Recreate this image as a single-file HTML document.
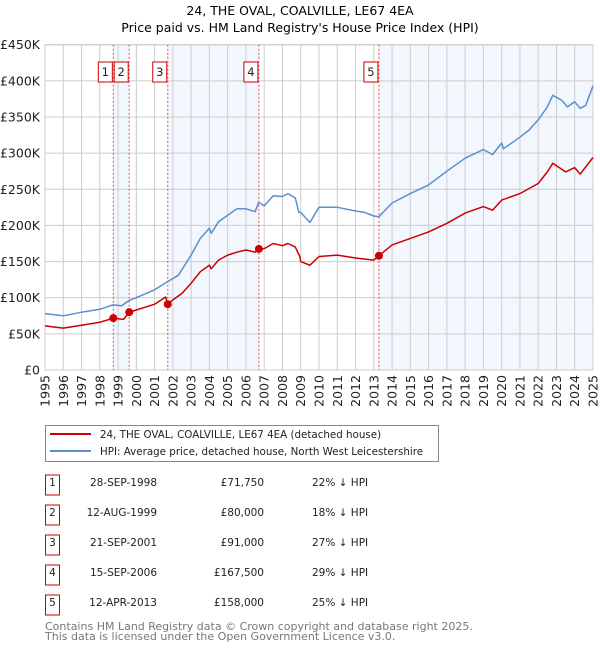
<!DOCTYPE html>
<html><head><meta charset="utf-8"><style>
body{margin:0;background:#fff;font-family:"DejaVu Sans","Liberation Sans",sans-serif;}
svg text{font-family:"DejaVu Sans","Liberation Sans",sans-serif;}
</style></head><body>
<svg id="c" width="600" height="650" xmlns="http://www.w3.org/2000/svg"></svg>
<script>
const hpiYears=[1995,1996,1997,1998,1998.7,1999.2,1999.6,2000,2001,2001.7,2002.3,2003,2003.5,2004,2004.1,2004.5,2005,2005.5,2006,2006.5,2006.7,2007,2007.5,2008,2008.3,2008.7,2008.9,2009,2009.5,2010,2011,2012,2012.5,2013,2013.28,2014,2015,2016,2017,2018,2019,2019.5,2020,2020.1,2021,2021.5,2022,2022.5,2022.8,2023.3,2023.6,2024,2024.3,2024.6,2025];
const hpiValues=[78,75,80,84,90,89,96,100,111,122,131,159,182,196,189,205,214,223,223,219,232,227,241,240,244,238,218,218,204,225,225,220,218,213,212,231,244,256,275,293,305,298,314,306,322,332,346,364,380,373,364,371,362,366,393];
const priceYears=[1995,1996,1997,1998,1998.74,1999.3,1999.61,2000,2001,2001.6,2001.72,2002,2002.5,2003,2003.5,2004,2004.1,2004.5,2005,2005.5,2006,2006.5,2006.71,2007,2007.5,2008,2008.3,2008.7,2008.95,2009,2009.5,2010,2011,2012,2013,2013.28,2014,2015,2016,2017,2018,2019,2019.5,2020,2021,2022,2022.5,2022.8,2023.5,2024,2024.3,2025];
const priceValues=[61,58,62,66,71.75,70,80,83,91,101,91,97,106,120,136,145,140,152,159,163,166,163,167.5,168,175,172,175,170,157,150,145,157,159,155,152,158,173,182,191,203,217,226,221,235,244,258,274,286,274,280,271,294];
const saleYears=[1998.74,1999.61,2001.72,2006.71,2013.28];
const saleValues=[71.75,80,91,167.5,158];
const saleLabels=["1","2","3","4","5"];
const yTicks=[0,50,100,150,200,250,300,350,400,450];
const yTickLabels=["£0","£50K","£100K","£150K","£200K","£250K","£300K","£350K","£400K","£450K"];
const xTicks=[1995,1996,1997,1998,1999,2000,2001,2002,2003,2004,2005,2006,2007,2008,2009,2010,2011,2012,2013,2014,2015,2016,2017,2018,2019,2020,2021,2022,2023,2024,2025];

const NS="http://www.w3.org/2000/svg",svg=document.getElementById('c');
const L=45,R=593,T=44.7,B=370;
const X=y=>L+(y-1995)*(R-L)/30, Y=v=>B-v*(B-T)/450;
function el(t,a,p){const e=document.createElementNS(NS,t);for(const k in a)e.setAttribute(k,a[k]);(p||svg).appendChild(e);return e;}
function tx(s,a,p){const e=el('text',a,p);e.textContent=s;return e;}

tx("24, THE OVAL, COALVILLE, LE67 4EA",{x:300,y:15,'text-anchor':'middle','font-size':12.5,});
tx("Price paid vs. HM Land Registry's House Price Index (HPI)",{x:300,y:32,'text-anchor':'middle','font-size':12.5,});

const plot=el('g',{});
[[0,1],[2,3],[4,null]].forEach(([a,b])=>{
 const r=el('rect',{x:X(saleYears[a]),y:T,width:(b===null?R:X(saleYears[b]))-X(saleYears[a]),height:B-T,fill:'#eef3fc',opacity:0.75},plot);
 
 
});
yTicks.forEach((v,i)=>{
 el('line',{x1:L,x2:R,y1:Y(v),y2:Y(v),stroke:'#cccccc','stroke-width':1},plot);
 const t=tx(yTickLabels[i],{x:40,y:Y(v)+4.5,'text-anchor':'end','font-size':12.5,fill:'#222'});
 
 
});
xTicks.forEach(y=>{
 el('line',{x1:X(y),x2:X(y),y1:T,y2:B,stroke:'#cccccc','stroke-width':1},plot);
 const t=tx(String(y),{transform:`translate(${X(y)+4.5},${B+5}) rotate(-90)`,'text-anchor':'end','font-size':12.5,fill:'#222'});
 
 
});
el('rect',{x:L,y:T,width:R-L,height:B-T,fill:'none',stroke:'#cccccc'},plot);
saleYears.forEach((y,i)=>{
 el('line',{x1:X(y),x2:X(y),y1:T,y2:B,stroke:'#e05050','stroke-width':1,'stroke-dasharray':'2,2'},plot);
 const g=el('g',{},plot);
 
 
 el('rect',{x:X(y)-15,y:62,width:14,height:20,fill:'#fff',stroke:'#cc0000'},g);
 tx(saleLabels[i],{x:X(y)-8,y:76,'text-anchor':'middle','font-size':11.5,fill:'#222'},g);
});
function line(xs,vs,col,name){
 const p=el('polyline',{points:xs.map((y,i)=>X(y).toFixed(1)+','+Y(vs[i]).toFixed(1)).join(' '),fill:'none',stroke:col,'stroke-width':1.5,'stroke-linejoin':'round'},plot);
 
 
}
line(hpiYears,hpiValues,'#5b8fd0','hpi-line');
line(priceYears,priceValues,'#cc0000','price-paid-line');
saleYears.forEach((y,i)=>{
 const c=el('circle',{cx:X(y),cy:Y(saleValues[i]),r:4,fill:'#cc0000'},plot);
 
 
});

const lg=el('g',{});


el('rect',{x:45.5,y:425.5,width:393,height:36,fill:'#fff',stroke:'#888'},lg);
el('line',{x1:50,x2:91,y1:434,y2:434,stroke:'#cc0000','stroke-width':2},lg);
el('line',{x1:50,x2:91,y1:451,y2:451,stroke:'#5b8fd0','stroke-width':2},lg);
tx("24, THE OVAL, COALVILLE, LE67 4EA (detached house)",{x:100,y:438,'font-size':10.3,fill:'#222'},lg);
tx("HPI: Average price, detached house, North West Leicestershire",{x:100,y:455,'font-size':10.3,fill:'#222'},lg);

const rows=[["28-SEP-1998","£71,750","22% ↓ HPI"],["12-AUG-1999","£80,000","18% ↓ HPI"],["21-SEP-2001","£91,000","27% ↓ HPI"],["15-SEP-2006","£167,500","29% ↓ HPI"],["12-APR-2013","£158,000","25% ↓ HPI"]];
rows.forEach((r,i)=>{
 const yc=485+30*i;
 const g=el('g',{});
 
 
 el('rect',{x:45.5,y:yc-10,width:14,height:20,fill:'#fff',stroke:'#cc0000'},g);
 tx(String(i+1),{x:52.5,y:yc+1,'text-anchor':'middle','font-size':10.5,fill:'#222'},g);
 tx(r[0],{x:157,y:yc+1,'text-anchor':'end','font-size':10.5,fill:'#222'},g);
 tx(r[1],{x:264,y:yc+1,'text-anchor':'end','font-size':10.5,fill:'#222'},g);
 tx(r[2],{x:312,y:yc+1,'font-size':10.5,fill:'#222'},g);
});
const f=el('g',{});


tx("Contains HM Land Registry data © Crown copyright and database right 2025.",{x:45,y:630,'font-size':11,fill:'#777'},f);
tx("This data is licensed under the Open Government Licence v3.0.",{x:45,y:640,'font-size':11,fill:'#777'},f);
</script>
</body></html>
